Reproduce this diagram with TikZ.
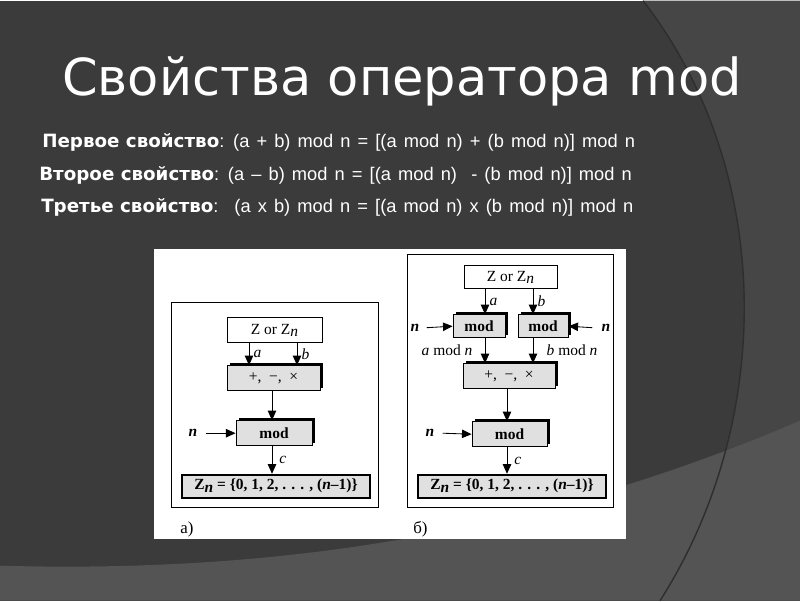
\documentclass[tikz,border=0pt]{standalone}
\usepackage{fontspec}
\setmainfont{Liberation Serif}
\newfontfamily\titlefont{DejaVu Sans}
\newfontfamily\propfont{DejaVu Sans}
\newfontfamily\regfont[WordSpace=1.4]{Liberation Sans}
\usetikzlibrary{arrows.meta, shadows}

\definecolor{bgdark}{HTML}{3B3B3B}
\definecolor{bgmid}{HTML}{464646}
\definecolor{bglight}{HTML}{545454}
\definecolor{bgline}{HTML}{2E2E2E}
\definecolor{boxgray}{HTML}{E0E0E0}

\newcommand\px{0.025cm}
\newcommand\sub[1]{\raisebox{-0.35ex}{\textit{#1}}}
\newcommand\prop[2]{{\propfont\bfseries #1}{\regfont #2}}

\begin{document}
\begin{tikzpicture}[
        x=\px, y=-\px,
        every node/.style={inner sep=0pt, font=\fontsize{11}{13}\selectfont},
        plainbox/.style={rectangle, draw=black, semithick, fill=white},
        graybox/.style={rectangle, draw=black, semithick, fill=boxgray,
            general shadow={fill=black, shadow xshift=2pt, shadow yshift=2pt}},
        setbox/.style={rectangle, draw=black, line width=1.3pt, fill=boxgray},
        lbl/.style={font=\fontsize{11}{13}\selectfont\itshape},
        nlbl/.style={font=\fontsize{11}{13}\selectfont\bfseries\itshape},
        proptext/.style={anchor=base west, text=white, font=\fontsize{13}{15}\selectfont},
        arrow/.style={semithick, -{Triangle[length=2.4mm, width=2.1mm]}}
    ]

    % Background
    \fill[bgdark] (0,0) rectangle (800,600);
    \fill[bgmid] (643,0) .. controls (775,170) and (775,420) .. (660,600) -- (800,600) -- (800,0) -- cycle;
    \fill[bglight] (0,565) .. controls (260,572) and (520,540) .. (800,420) -- (800,600) -- (0,600) -- cycle;
    \draw[bgline, line width=1pt] (643,0) .. controls (775,170) and (775,420) .. (660,600);

    % Title and properties
    \node[anchor=base west, text=white, font=\titlefont\fontsize{36.3}{42}\selectfont] (title) at (62,95) {Свойства оператора mod};
    \node[proptext] (prop1) at (42,147)
        {\prop{Первое свойство}{: (a + b) mod n = [(a mod n) + (b mod n)] mod n}};
    \node[proptext] (prop2) at (39,180)
        {\prop{Второе свойство}{: (a – b) mod n = [(a mod n) \ - (b mod n)] mod n}};
    \node[proptext] (prop3) at (41,212)
        {\prop{Третье свойство}{: \ (a x b) mod n = [(a mod n) x (b mod n)] mod n}};

    % Figure sheet
    \fill[white] (154,248) rectangle (626,538);
    \draw[semithick] (171,302) rectangle (378,507);
    \draw[semithick] (407,254) rectangle (613,507);
    \node[anchor=base west, font=\fontsize{12}{14}\selectfont] (capa) at (180,533) {a)};
    \node[anchor=base west, font=\fontsize{12}{14}\selectfont] (capb) at (413,533) {б)};

    % Panel a
    \node[plainbox, minimum width=95*\px, minimum height=25*\px] (za) at (274.5,329.5) {Z or Z\sub{n}};
    \node[graybox, minimum width=93*\px, minimum height=25*\px] (opa) at (273.5,377.5) {+, \ −, \ ×};
    \node[graybox, minimum width=76*\px, minimum height=25*\px] (moda) at (274,432.5) {\textbf{mod}};
    \node[setbox, minimum width=188*\px, minimum height=23*\px] (zna) at (276,485.5)
        {\textbf{Z\sub{n} = \{0, 1, 2, . . . , (\textit{n}–1)\}}};
    \node[nlbl] (na) at (193,432.5) {n};
    \coordinate (xa1) at (249,0);
    \coordinate (xb1) at (297,0);
    \coordinate (xc1) at (272,0);

    \draw[arrow] (za.south -| xa1) -- (opa.north -| xa1) node[lbl, midway, right=3pt] {a};
    \draw[arrow] (za.south -| xb1) -- (opa.north -| xb1) node[lbl, midway, right=3pt] {b};
    \draw[arrow] (opa.south -| xc1) -- (moda.north -| xc1);
    \draw[arrow] (na.east) ++(8,0) -- (moda.west);
    \draw[arrow] (moda.south -| xc1) -- (zna.north -| xc1) node[lbl, midway, right=5pt] {c};

    % Panel b
    \node[plainbox, minimum width=93*\px, minimum height=23*\px] (zb) at (510.5,276.5) {Z or Z\sub{n}};
    \node[graybox, minimum width=52*\px, minimum height=23*\px] (modl) at (479,325.5) {\textbf{mod}};
    \node[graybox, minimum width=50*\px, minimum height=23*\px] (modr) at (543,325.5) {\textbf{mod}};
    \node[graybox, minimum width=92*\px, minimum height=25*\px] (opb) at (509,375.5) {+, \ −, \ ×};
    \node[graybox, minimum width=75*\px, minimum height=25*\px] (modb) at (509.5,433.5) {\textbf{mod}};
    \node[setbox, minimum width=188*\px, minimum height=23*\px] (znb) at (512,485.5)
        {\textbf{Z\sub{n} = \{0, 1, 2, . . . , (\textit{n}–1)\}}};
    \node[nlbl] (nl) at (415,327) {n};
    \node[nlbl] (nr) at (606,327) {n};
    \node[nlbl] (nb) at (430,432.5) {n};
    \node (amod) at (447,350) {\textit{a} mod \textit{n}};
    \node (bmod) at (572,350) {\textit{b} mod \textit{n}};
    \coordinate (xa2) at (485,0);
    \coordinate (xb2) at (533,0);
    \coordinate (xc2) at (507,0);

    \draw[arrow] (zb.south -| xa2) -- (modl.north -| xa2) node[lbl, midway, right=3pt] {a};
    \draw[arrow] (zb.south -| xb2) -- (modr.north -| xb2) node[lbl, midway, right=3pt] {b};
    \draw[arrow] (nl.east) ++(7,0) -- (modl.west);
    \draw[arrow] (nr.west) ++(-9,0) -- (modr.east);
    \draw[arrow] (modl.south -| xa2) -- (opb.north -| xa2);
    \draw[arrow] (modr.south -| xb2) -- (opb.north -| xb2);
    \draw[arrow] (opb.south -| xc2) -- (modb.north -| xc2);
    \draw[arrow] (nb.east) ++(8,0) -- (modb.west);
    \draw[arrow] (modb.south -| xc2) -- (znb.north -| xc2) node[lbl, midway, right=5pt] {c};

\end{tikzpicture}
\end{document}
